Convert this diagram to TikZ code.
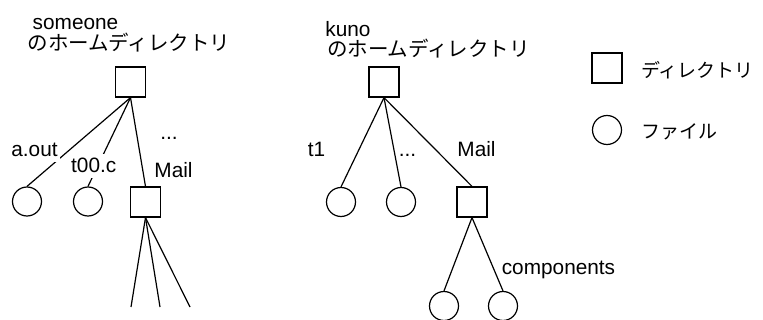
\documentclass[tikz,border=0pt]{standalone}
\usepackage{fontspec}
\setmainfont{Liberation Sans}
\newfontfamily\jfont{Noto Sans CJK JP}

\begin{document}
\begin{tikzpicture}[x=1pt,y=-1pt,
  dirbox/.style={draw, line width=1.2pt, minimum size=30pt, inner sep=0pt},
  filenode/.style={draw, circle, line width=1.2pt, minimum size=29pt, inner sep=0pt},
  link/.style={line width=1.2pt},
  lbl/.style={font=\fontsize{20.8}{24}\selectfont, anchor=base, fill=white,
    text height=18pt, text depth=4pt, inner xsep=2pt, inner ysep=1pt},
  title/.style={font=\fontsize{20.8}{24}\selectfont, anchor=base, inner sep=0pt},
  jtitle/.style={font=\jfont\fontsize{20.5}{24}\selectfont, inner sep=0pt,
    text height=15.5pt, text depth=0pt},
  jlegend/.style={font=\jfont\fontsize{19}{24}\selectfont, inner sep=0pt, anchor=west},
]
\useasboundingbox (0,0) rectangle (763,320);

% ---- home directory of someone ----
\node[title] (tA) at (75.5,29.3) {someone};
\node[jtitle] (jA) at (129,43) {のホームディレクトリ};
\node[dirbox] (rootA) at (130.5,82) {};
\node[filenode] (aout) at (27,201.5) {};
\node[filenode] (tooc) at (88,201.5) {};
\node[dirbox] (mailA) at (145.5,202) {};
\coordinate (subA1) at (131,307);
\coordinate (subA2) at (160,307);
\coordinate (subA3) at (190,307);

\draw[link] (rootA.south) -- (aout.north);
\draw[link] (rootA.south) -- (tooc.north);
\draw[link] (rootA.south) -- (mailA.north);
\draw[link] (mailA.south) -- (subA1);
\draw[link] (mailA.south) -- (subA2);
\draw[link] (mailA.south) -- (subA3);

\node[lbl] (laout) at (34.5,157) {a.out};
\node[lbl] (ltooc) at (93.7,173) {t00.c};
\node[lbl] (ldotsA) at (169,140) {...};
\node[lbl] (lmailA) at (173.5,178) {Mail};

% ---- home directory of kuno ----
\node[title] (tB) at (348,36.7) {kuno};
\node[jtitle] (jB) at (428.5,48.5) {のホームディレクトリ};
\node[dirbox] (rootB) at (384,82) {};
\node[filenode] (t1) at (341,202) {};
\node[filenode] (fB) at (401,202) {};
\node[dirbox] (mailB) at (472,202) {};
\node[filenode] (c1) at (444,306) {};
\node[filenode] (c2) at (503,306) {};

\draw[link] (rootB.south) -- (t1.north);
\draw[link] (rootB.south) -- (fB.north);
\draw[link] (rootB.south) -- (mailB.north);
\draw[link] (mailB.south) -- (c1.north);
\draw[link] (mailB.south) -- (c2.north);

\node[lbl] (lt1) at (316.5,157) {t1};
\node[lbl] (ldotsB) at (407.5,157) {...};
\node[lbl] (lmailB) at (476.5,157) {Mail};
\node[lbl] (lcomp) at (558.5,275) {components};

% ---- legend ----
\node[dirbox] (legdir) at (607,68) {};
\node[jlegend] (legdirt) at (641,70) {ディレクトリ};
\node[filenode] (legfile) at (607,130) {};
\node[jlegend] (legfilet) at (641,132) {ファイル};
\end{tikzpicture}
\end{document}
